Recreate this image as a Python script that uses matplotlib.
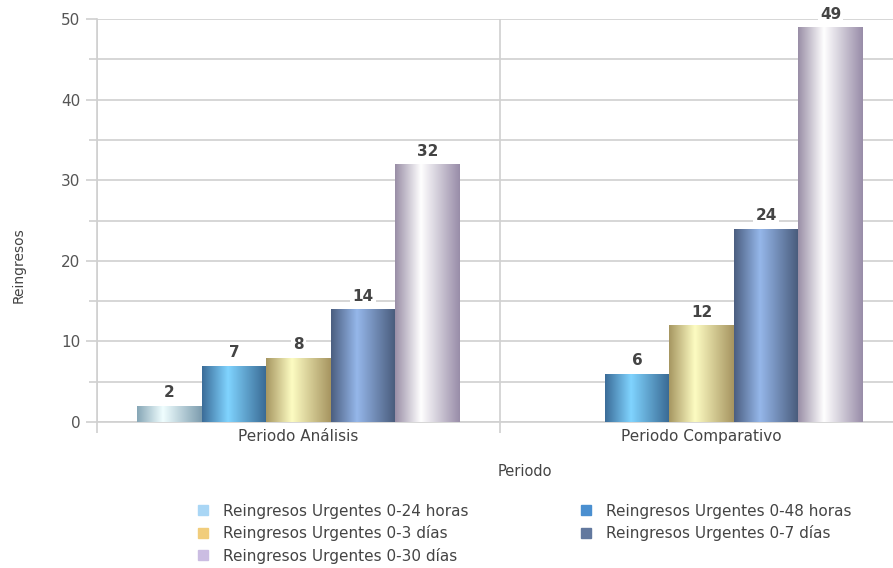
import numpy as np
import matplotlib.pyplot as plt
from matplotlib.colors import LinearSegmentedColormap
from matplotlib.patches import Patch
from matplotlib.ticker import MultipleLocator, FixedLocator

periodos = ["Periodo Análisis", "Periodo Comparativo"]
series = ["Reingresos Urgentes 0-24 horas", "Reingresos Urgentes 0-48 horas",
          "Reingresos Urgentes 0-3 días", "Reingresos Urgentes 0-7 días",
          "Reingresos Urgentes 0-30 días"]
valores = [
    [2, np.nan],
    [7, 6],
    [8, 12],
    [14, 24],
    [32, 49],
]

# (borde izq, brillo, borde der, color leyenda)
estilos = [
    ("#86a6b6", "#f0feff", "#7c9cae", "#a9d6f5"),
    ("#3b6c98", "#80d4ff", "#386892", "#4a8fd0"),
    ("#a69661", "#fdfcc2", "#a69460", "#f1cd7c"),
    ("#4b5e80", "#95b7ea", "#485a7a", "#62789e"),
    ("#998ea6", "#ffffff", "#988ca8", "#cbbde2"),
]

fig = plt.figure(figsize=(8.93, 5.68), dpi=100)
ax = fig.add_axes([97 / 893, 1 - 422 / 568, 806 / 893, 403 / 568])

x = np.arange(len(periodos))
ancho = 0.16
grad = np.linspace(0, 1, 256).reshape(1, -1)

for i, vals in enumerate(valores):
    izq, brillo, der, _ = estilos[i]
    cmap = LinearSegmentedColormap.from_list(
        "g%d" % i, [(0, izq), (0.4, brillo), (1, der)])
    pos = x + (i - 2) * ancho
    barras = ax.bar(pos, vals, ancho, color=brillo, zorder=2, linewidth=0)
    for b, v in zip(barras, vals):
        if np.isnan(v):
            continue
        bx, by = b.get_x(), b.get_y()
        im = ax.imshow(grad, cmap=cmap, aspect="auto", zorder=3,
                       extent=[bx, bx + b.get_width(), by, by + b.get_height()])
        im.set_clip_path(b)
        ax.annotate("%d" % v, (bx + b.get_width() / 2, v), xytext=(0, 4),
                    textcoords="offset points", ha="center", va="bottom",
                    fontsize=11, fontweight="bold", color="#444444", zorder=4,
                    bbox=dict(boxstyle="square,pad=0.15", fc="white", ec="none"))

ax.set_xlim(-0.5, 1.5)
ax.set_ylim(0, 50)

ax.yaxis.set_major_locator(MultipleLocator(10))
ax.yaxis.set_minor_locator(MultipleLocator(5))
ax.xaxis.set_major_locator(FixedLocator([-0.5, 0.5, 1.5]))
ax.xaxis.set_minor_locator(FixedLocator(x))
ax.xaxis.set_major_formatter(plt.NullFormatter())
ax.set_xticks(x, periodos, minor=True)

gris = "#d0d0d0"
ax.grid(True, which="both", axis="y", color=gris, linewidth=1.2, zorder=0)
ax.grid(True, which="major", axis="x", color=gris, linewidth=1.2, zorder=0)
ax.set_axisbelow(True)

for s in ["top", "right"]:
    ax.spines[s].set_visible(False)
for s in ["left", "bottom"]:
    ax.spines[s].set_color(gris)
    ax.spines[s].set_linewidth(1.2)

ax.tick_params(axis="y", which="major", length=8, color=gris, width=1.2,
               labelsize=11, labelcolor="#555555", pad=4)
ax.tick_params(axis="y", which="minor", length=6, color=gris, width=1.2)
ax.tick_params(axis="x", which="major", length=8, color=gris, width=1.2)
ax.tick_params(axis="x", which="minor", length=0, labelsize=11,
               labelcolor="#444444", pad=5)

ax.set_ylabel("Reingresos", fontsize=10, color="#444444")
ax.yaxis.set_label_coords(-0.088, 0.39)
ax.set_xlabel("Periodo", fontsize=10.5, color="#444444")
ax.xaxis.set_label_coords(0.531, -0.105)

manejadores = [Patch(color=e[3]) for e in estilos]
orden = [0, 2, 4, 1, 3]
fig.legend([manejadores[k] for k in orden], [series[k] for k in orden],
           ncol=2, loc="upper left", bbox_to_anchor=(184 / 893, 1 - 490 / 568),
           frameon=False, fontsize=11, labelcolor="#444444",
           handlelength=0.65, handleheight=0.65, handletextpad=1.0,
           labelspacing=0.42, columnspacing=7.35)

fig.savefig("out.png", dpi=100)
